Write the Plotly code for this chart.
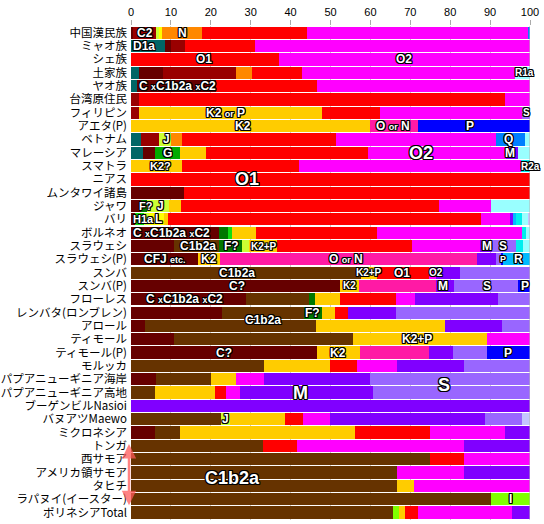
import plotly.graph_objects as go

# Y-chromosome haplogroup frequencies (%) by population
populations = [
    "中国漢民族", "ミャオ族", "シェ族", "土家族", "ヤオ族", "台湾原住民", "フィリピン",
    "アエタ(P)", "ベトナム", "マレーシア", "スマトラ", "ニアス", "ムンタワイ諸島", "ジャワ",
    "バリ", "ボルネオ", "スラウェシ", "スラウェシ(P)", "スンバ", "スンバ(P)", "フローレス",
    "レンバタ(ロンブレン)", "アロール", "ティモール", "ティモール(P)", "モルッカ",
    "パプアニューギニア海岸", "パプアニューギニア高地", "ブーゲンビルNasioi", "バヌアツMaewo",
    "ミクロネシア", "トンガ", "西サモア", "アメリカ領サモア", "タヒチ", "ラパヌイ(イースター)",
    "ポリネシアTotal",
]

#          0    1    2    3    4    5    6    7    8    9   10   11   12   13   14   15   16   17   18   19   20   21   22   23   24   25   26   27   28   29   30   31   32   33   34   35   36
d1a   = [0.0, 8.4, 0.0, 1.9, 1.4, 0.0, 0.0, 0.0, 2.6, 3.0, 0.0, 0.0, 0.0, 0.0, 0.0, 0.0, 0.0, 0.0, 0.0, 0.0, 0.0, 0.0, 0.0, 0.0, 0.0, 0.0, 0.0, 0.0, 0.0, 0.0, 0.0, 0.0, 0.0, 0.0, 0.0, 0.0, 0.0]
c_x   = [0.5, 1.7, 0.0, 6.1, 20.0, 0.0, 0.0, 0.0, 0.0, 3.1, 0.0, 0.0, 13.4, 2.6, 1.1, 22.0, 10.9, 16.8, 0.0, 52.5, 28.9, 22.7, 3.4, 10.9, 46.6, 0.0, 6.3, 0.0, 0.0, 0.0, 6.1, 0.0, 0.0, 0.0, 0.0, 0.0, 0.0]
c2    = [5.8, 3.5, 0.0, 18.4, 0.0, 1.9, 1.9, 0.0, 4.3, 0.0, 0.0, 0.0, 0.0, 0.0, 0.0, 0.0, 0.0, 0.0, 0.0, 0.0, 0.0, 0.0, 0.0, 0.0, 0.0, 0.0, 0.0, 0.0, 0.0, 0.0, 0.0, 0.0, 0.0, 0.0, 0.0, 0.0, 0.0]
c1b2a = [0.0, 0.0, 0.0, 0.0, 0.0, 0.0, 0.0, 0.0, 0.0, 0.0, 0.0, 0.0, 0.0, 0.0, 0.0, 0.0, 11.2, 0.0, 57.7, 0.0, 15.8, 20.7, 43.0, 44.8, 0.0, 33.3, 13.7, 5.9, 0.0, 22.5, 6.3, 33.1, 74.9, 66.7, 66.7, 90.1, 65.6]
f_q   = [0.0, 0.0, 0.0, 0.0, 0.0, 0.0, 0.0, 0.0, 0.0, 0.0, 0.0, 0.0, 0.0, 1.3, 0.0, 2.3, 5.7, 0.0, 0.0, 0.0, 1.3, 4.5, 0.0, 0.0, 0.0, 0.0, 0.0, 0.0, 0.0, 0.0, 0.0, 0.0, 0.0, 0.0, 0.0, 0.0, 0.0]
g     = [0.0, 0.0, 0.0, 0.0, 0.0, 0.0, 0.0, 0.0, 0.0, 6.3, 0.0, 0.0, 0.0, 0.0, 0.0, 0.0, 0.0, 0.0, 0.0, 0.0, 0.0, 0.0, 0.0, 0.0, 0.0, 0.0, 0.0, 0.0, 0.0, 0.0, 0.0, 0.0, 0.0, 0.0, 0.0, 0.0, 0.0]
h1a   = [0.0, 0.0, 0.0, 0.0, 0.0, 0.0, 0.0, 0.0, 0.0, 0.0, 0.0, 0.0, 0.0, 0.0, 2.1, 1.1, 0.0, 0.0, 0.0, 0.0, 0.0, 0.0, 0.0, 0.0, 0.0, 0.0, 0.0, 0.0, 0.0, 0.0, 0.0, 0.0, 0.0, 0.0, 0.0, 0.0, 0.0]
i_    = [0.0, 0.0, 0.0, 0.0, 0.0, 0.0, 0.0, 0.0, 0.0, 0.0, 0.0, 0.0, 0.0, 0.0, 0.0, 0.0, 0.0, 0.0, 0.0, 0.0, 0.0, 0.0, 0.0, 0.0, 0.0, 0.0, 0.0, 0.0, 0.0, 0.0, 0.0, 0.0, 0.0, 0.0, 0.0, 9.9, 1.6]
j     = [0.7, 0.0, 0.0, 0.0, 0.0, 0.0, 0.0, 0.0, 3.2, 0.0, 0.0, 0.0, 0.0, 5.6, 1.3, 0.0, 1.7, 0.0, 0.0, 0.0, 0.0, 0.0, 0.0, 0.0, 0.0, 0.0, 0.0, 0.0, 0.0, 2.4, 0.0, 0.0, 0.0, 0.0, 0.0, 0.0, 0.0]
l_    = [0.7, 0.0, 0.0, 0.0, 0.0, 0.0, 0.0, 0.0, 0.0, 0.0, 0.0, 0.0, 0.0, 0.0, 3.7, 0.0, 0.0, 0.0, 0.0, 0.0, 0.0, 0.0, 0.0, 0.0, 0.0, 0.0, 0.0, 0.0, 0.0, 0.0, 0.0, 0.0, 0.0, 0.0, 0.0, 0.0, 0.0]
k2    = [0.0, 0.0, 0.0, 0.0, 0.0, 0.0, 46.0, 59.8, 0.0, 6.3, 12.9, 0.0, 0.0, 3.1, 1.0, 5.9, 7.0, 5.6, 4.0, 4.7, 6.4, 3.2, 32.4, 33.4, 10.8, 16.6, 6.4, 15.1, 0.0, 13.6, 43.7, 0.0, 0.0, 0.0, 4.3, 0.0, 1.5]
n     = [10.2, 0.0, 0.0, 4.0, 0.0, 0.0, 0.0, 0.0, 2.7, 0.0, 0.0, 0.0, 0.0, 0.0, 0.0, 0.0, 0.0, 0.0, 0.0, 0.0, 0.0, 0.0, 0.0, 0.0, 0.0, 0.0, 0.0, 0.0, 0.0, 0.0, 0.0, 0.0, 0.0, 0.0, 0.0, 0.0, 0.0]
o1    = [26.2, 17.4, 37.0, 12.4, 25.2, 91.9, 14.5, 0.0, 38.6, 40.7, 29.1, 100.0, 86.6, 64.6, 78.6, 30.4, 34.0, 0.0, 13.0, 0.0, 14.1, 3.3, 0.0, 0.0, 0.0, 6.8, 0.0, 2.9, 0.0, 4.6, 18.8, 8.5, 8.6, 0.0, 0.0, 0.0, 3.3]
o2    = [55.3, 69.0, 63.0, 53.4, 53.4, 6.2, 35.7, 0.0, 40.0, 34.5, 55.7, 0.0, 0.0, 13.1, 7.2, 36.2, 16.9, 0.0, 1.8, 0.0, 4.8, 0.0, 0.0, 10.9, 0.0, 10.0, 6.9, 3.4, 0.0, 6.8, 18.9, 41.9, 16.5, 16.8, 29.0, 0.0, 23.6]
o_or_n = [0.0, 0.0, 0.0, 0.0, 0.0, 0.0, 0.0, 12.2, 0.0, 0.0, 0.0, 0.0, 0.0, 0.0, 0.0, 0.0, 0.0, 64.2, 0.0, 19.3, 0.0, 0.0, 0.0, 0.0, 17.3, 0.0, 0.0, 0.0, 0.0, 0.0, 0.0, 0.0, 0.0, 0.0, 0.0, 0.0, 0.0]
m     = [0.0, 0.0, 0.0, 0.0, 0.0, 0.0, 0.0, 0.0, 0.0, 3.2, 0.0, 0.0, 0.0, 0.0, 0.8, 0.0, 3.2, 5.0, 6.0, 4.5, 20.8, 12.1, 14.3, 0.0, 6.1, 16.8, 26.5, 33.3, 100.0, 38.8, 6.2, 16.5, 0.0, 16.5, 0.0, 0.0, 4.4]
s     = [0.0, 0.0, 0.0, 0.0, 0.0, 0.0, 1.9, 0.0, 0.0, 0.0, 0.0, 0.0, 0.0, 0.0, 0.0, 0.0, 5.8, 1.2, 17.5, 16.1, 7.9, 33.5, 6.9, 0.0, 8.3, 16.5, 40.2, 39.4, 0.0, 9.2, 0.0, 0.0, 0.0, 0.0, 0.0, 0.0, 0.0]
p     = [0.0, 0.0, 0.0, 0.0, 0.0, 0.0, 0.0, 28.0, 0.0, 0.0, 0.0, 0.0, 0.0, 0.0, 0.0, 0.0, 0.0, 0.5, 0.0, 2.9, 0.0, 0.0, 0.0, 0.0, 10.9, 0.0, 0.0, 0.0, 0.0, 0.0, 0.0, 0.0, 0.0, 0.0, 0.0, 0.0, 0.0]
q     = [0.6, 0.0, 0.0, 0.0, 0.0, 0.0, 0.0, 0.0, 7.4, 0.0, 0.0, 0.0, 0.0, 0.0, 0.0, 0.0, 0.0, 0.0, 0.0, 0.0, 0.0, 0.0, 0.0, 0.0, 0.0, 0.0, 0.0, 0.0, 0.0, 0.0, 0.0, 0.0, 0.0, 0.0, 0.0, 0.0, 0.0]
r     = [0.0, 0.0, 0.0, 0.0, 0.0, 0.0, 0.0, 0.0, 0.0, 0.0, 0.0, 0.0, 0.0, 0.0, 0.6, 0.0, 0.0, 6.7, 0.0, 0.0, 0.0, 0.0, 0.0, 0.0, 0.0, 0.0, 0.0, 0.0, 0.0, 0.0, 0.0, 0.0, 0.0, 0.0, 0.0, 0.0, 0.0]
r2a   = [0.0, 0.0, 0.0, 0.0, 0.0, 0.0, 0.0, 0.0, 0.0, 0.0, 2.3, 0.0, 0.0, 0.0, 1.6, 1.1, 1.9, 0.0, 0.0, 0.0, 0.0, 0.0, 0.0, 0.0, 0.0, 0.0, 0.0, 0.0, 0.0, 0.0, 0.0, 0.0, 0.0, 0.0, 0.0, 0.0, 0.0]
r1a   = [0.0, 0.0, 0.0, 3.8, 0.0, 0.0, 0.0, 0.0, 1.2, 2.9, 0.0, 0.0, 0.0, 9.7, 1.6, 1.0, 1.7, 0.0, 0.0, 0.0, 0.0, 0.0, 0.0, 0.0, 0.0, 0.0, 0.0, 0.0, 0.0, 0.0, 0.0, 0.0, 0.0, 0.0, 0.0, 0.0, 0.0]
r1b   = [0.0, 0.0, 0.0, 0.0, 0.0, 0.0, 0.0, 0.0, 0.0, 0.0, 0.0, 0.0, 0.0, 0.0, 0.4, 0.0, 0.0, 0.0, 0.0, 0.0, 0.0, 0.0, 0.0, 0.0, 0.0, 0.0, 0.0, 0.0, 0.0, 2.1, 0.0, 0.0, 0.0, 0.0, 0.0, 0.0, 0.0]

# stacking order, left to right
series = [
    ("D1a", d1a, "#006666"),
    ("C", c_x, "#660000"),
    ("C2", c2, "#990000"),
    ("C1b2a", c1b2a, "#663300"),
    ("F?", f_q, "#007700"),
    ("G", g, "#00aa00"),
    ("H1a", h1a, "#11dd11"),
    ("I", i_, "#80ff00"),
    ("J", j, "#ccff33"),
    ("L", l_, "#ffff00"),
    ("K2", k2, "#ffcc00"),
    ("N", n, "#ff8800"),
    ("O1", o1, "#ff0000"),
    ("O2", o2, "#ff00ff"),
    ("O or N", o_or_n, "#ff1aa5"),
    ("M", m, "#8000ff"),
    ("S", s, "#9966ff"),
    ("P", p, "#0000ff"),
    ("Q", q, "#0080ff"),
    ("R", r, "#00bbff"),
    ("R2a", r2a, "#00eeee"),
    ("R1a", r1a, "#99ffff"),
    ("R1b", r1b, "#c4c4ff"),
]

SM = "<span style='font-size:9px'>%s</span>"
# in-bar labels: (row, x, text, font size)
labels = [
    (0, 3.4, "C2", 12), (0, 12.8, "N", 12),
    (1, 3.3, "D1a", 12),
    (2, 18.4, "O1", 12), (2, 68.4, "O2", 12),
    (3, 98.6, "R1a", 10),
    (4, 11.7, "C " + SM % "x" + "C1b2a " + SM % "x" + "C2", 12),
    (6, 23.7, "K2 " + SM % "or" + " P", 12), (6, 99.1, "S", 10),
    (7, 28.0, "K2", 12), (7, 65.7, "O " + SM % "or" + " N", 12), (7, 85.0, "P", 12),
    (8, 8.8, "J", 12), (8, 94.6, "Q", 12),
    (9, 9.2, "G", 12), (9, 72.7, "O2", 18), (9, 95.1, "M", 12),
    (10, 7.3, "K2?", 11), (10, 100.0, "R2a", 10),
    (11, 29.0, "O1", 18),
    (13, 3.85, "F?", 11), (13, 7.4, "J", 12),
    (14, 3.2, "H1a", 11), (14, 6.9, "L", 12),
    (15, 10.1, "C " + SM % "x" + "C1b2a " + SM % "x" + "C2", 12),
    (16, 16.9, "C1b2a", 12), (16, 25.2, "F?", 12), (16, 33.3, "K2+P", 10),
    (16, 89.1, "M", 12), (16, 93.3, "S", 12),
    (17, 8.6, "CFJ " + SM % "etc.", 12), (17, 19.5, "K2", 12), (17, 53.8, "O " + SM % "or" + " N", 12),
    (17, 93.2, "P", 9), (17, 97.0, "R", 12),
    (18, 26.5, "C1b2a", 12), (18, 59.7, "K2+P", 10), (18, 67.8, "O1", 12), (18, 76.4, "O2", 10),
    (19, 26.5, "C?", 12), (19, 54.8, "K2", 10), (19, 78.3, "M", 12), (19, 89.2, "S", 12), (19, 98.8, "P", 12),
    (20, 13.4, "C " + SM % "x" + "C1b2a " + SM % "x" + "C2", 12),
    (21.0, 45.5, "F?", 12), (21.55, 33.2, "C1b2a", 12),
    (23, 71.6, "K2+P", 12),
    (24, 23.2, "C?", 12), (24, 51.8, "K2", 12), (24, 94.6, "P", 12),
    (26.46, 78.5, "S", 18), (27.04, 42.5, "M", 18),
    (29, 23.8, "J", 12), (29, 100.4, "R1b", 10),
    (33.4, 25.4, "C1b2a", 18),
    (35, 95.2, "I", 12),
]

OUTLINE = ("1px 1px 0 #000, -1px -1px 0 #000, 1px -1px 0 #000, -1px 1px 0 #000, "
           "0 1px 0 #000, 1px 0 0 #000, 0 -1px 0 #000, -1px 0 0 #000")

rows = list(range(len(populations)))

fig = go.Figure()
for name, vals, color in series:
    fig.add_trace(go.Bar(
        y=rows, x=vals, name=name, orientation="h",
        width=0.92,
        marker=dict(color=color, line=dict(width=0)),
        hovertemplate=name + ": %{x}%<extra></extra>",
    ))

for row, xv, text, size in labels:
    fig.add_annotation(
        x=xv, y=row, text=text, showarrow=False,
        xanchor="center", yanchor="middle",
        font=dict(family="Liberation Sans, Arial", size=size, color="white",
                  weight="bold", shadow=OUTLINE),
    )

# Polynesian C1b2a bracket arrow (Tonga .. Rapa Nui), just left of the bars
fig.add_annotation(
    x=-0.005, y=35.45, xref="paper", yref="y",
    ax=0, ay=30.75, axref="pixel", ayref="y",
    text="", showarrow=True, arrowside="end+start",
    arrowhead=2, startarrowhead=2, arrowsize=1.15, startarrowsize=1.15,
    arrowwidth=2.5, arrowcolor="rgba(255,90,90,0.75)",
)

# grey right border at 100 %
fig.add_shape(type="line", xref="x", yref="paper", x0=100, x1=100, y0=0, y1=1,
              line=dict(color="#b4b4b4", width=1), layer="above")

fig.update_layout(
    width=544, height=524,
    barmode="stack",
    showlegend=False,
    plot_bgcolor="white", paper_bgcolor="white",
    margin=dict(l=131, r=14, t=26, b=4, autoexpand=False),
    font=dict(family="Noto Sans CJK JP", color="black"),
    xaxis=dict(
        side="top", range=[0, 100], tickvals=list(range(0, 101, 10)),
        ticks="outside", ticklen=5, tickcolor="#aaaaaa",
        showgrid=True, gridcolor="#c8c8c8", gridwidth=1,
        zeroline=False, showline=False, automargin=False,
        tickfont=dict(family="Liberation Sans, Arial", size=11, color="black"),
        fixedrange=True,
    ),
    yaxis=dict(
        range=[36.56, -0.51], tickvals=rows, ticktext=populations,
        showgrid=False, zeroline=False, showline=False, automargin=False,
        ticks="", ticklabelstandoff=3,
        tickfont=dict(family="Noto Sans CJK JP", size=11.5, color="black"),
        fixedrange=True,
    ),
)

fig.write_html("out.html", config={"displayModeBar": False},
               post_script="document.body.style.margin='0';")
